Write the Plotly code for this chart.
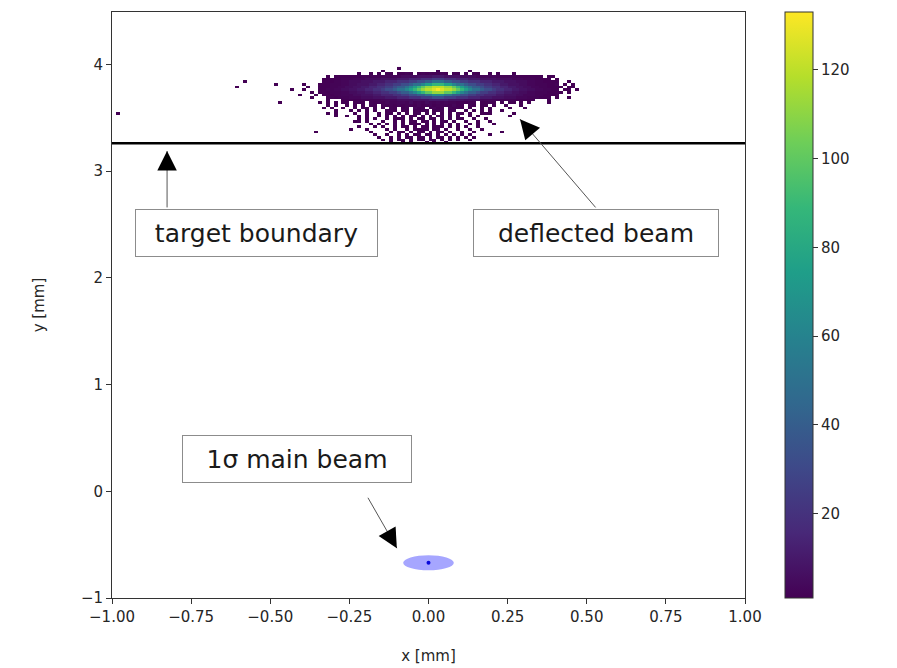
import numpy as np
import plotly.graph_objects as go

# ---------------- data ----------------
x_tick_vals = [-1.0, -0.75, -0.5, -0.25, 0.0, 0.25, 0.5, 0.75, 1.0]
y_tick_vals = [-1, 0, 1, 2, 3, 4]
cbar_tick_vals = [20, 40, 60, 80, 100, 120]

# 2D histogram of the deflected beam (counts per bin)
hist_x_min, hist_x_bin, hist_n_cols = -1.0, 0.0125, 160
hist_y_min, hist_y_bin, hist_n_rows = 3.25, 0.025, 29
block_first_col = 48          # first column of the typed block (x = -0.40)
count_codes = "123456789ABCDEFGHIJK"
count_values = [1, 2, 3, 5, 7, 10, 14, 19, 25, 32, 40, 50, 62, 75, 88, 100, 112, 120, 126, 133]

# rows from top (y = 3.975) to bottom (y = 3.25); '.' = empty bin
hist_rows = [
    "",
    "....................1.............1.......1",
    ".........." "....1..1.1" ".11.1121.1" "2121121.11" ".1.11..1.1" "...1......",
    "......1." "111111" "1222223333" "3444455556" "6" "6555544443" "3333222221" "111111" "..1......",
    ".....1" "11112223" "3344445555" "6667778889" "9" "9888777666" "5555444433" "32221111" ".1.....",
    "....." "111223344" "4555666777" "88899AABBC" "C" "CBBAA99888" "7776665554" "443322111" "1..1..",
    "1..." "1112223344" "5556677889" "9AABCCDEEF" "F" "FEEDCCBAA9" "9887766555" "4433222111" ".1.1.",
    ".1.." "1112233445" "566778899A" "BBCDEFGHHI" "I" "IHHGFEDCBB" "A998877665" "5443322111" "1..1.",
    "1..." "1122334455" "6677889AAB" "CCDEFGHIIJ" "K" "JIIHGFEDCC" "BAA9887766" "5544332211" ".11.1",
    "..1." "1112223344" "5566778899" "ABBCDEFGGH" "H" "HGGFEDCBBA" "9988776655" "4433222111" "1.1..",
    "...1." "111223334" "4555667778" "899AABBCCD" "D" "DCCBBAA998" "8777665554" "433322111" "1.....",
    "..1..." "11122233" "3444555666" "777888999A" "A" "A999888777" "6665554443" "33222111" ".1..1..",
    "......1..." "1111" "1222223333" "4444555566" "6" "6655554444" "3333222221" "1111" "...1.......",
    "....1.1.1." "11.121.212" "1322332423" "2432323221" "2122.1121." "1.1..1.1.." "..1.......",
    "......1.1." ".1.1.1.21." "2121312213" "1231222131" "1.21.11.1." ".1...1...." "..........",
    ".....1.1.." "1..1.21.1." "1.21.12.31" "2.1312.211" "1.1..1.1.." "..1......." "..........",
    "........1." "..1.1.1.1." ".121.21.11" "21.122.12." ".1.1.1.1.." "1........." "..........",
    "......1.1." "...1..1..1" ".11.2.1.12" ".1.2.1.1.1" "1.1..11..." "...1......" "..........",
    "........1." ".1..1.1..1" ".1.1.2.11." "2.1.12.1.1" "..1.1....." "..1......." "..........",
    ".........." "....1.1.1." ".1.112.1.2" "1.21.1.2.1" "1..1..1..." ".........." "..........",
    ".........." "...1..1..." "1..1.1.21." "12.1.21.1." ".1..1..1.." ".........." "..........",
    ".........." ".......1.1" ".1.2.1.112" ".1.1.2.1.1" "..1.1...1." ".........." "..........",
    ".........." "....1...1." "1..1.21.1." "21.121.2.1" ".1..1....." ".........." "..........",
    ".........." "..1...1..." ".1.1..1.21" "12.12.1..1" "..1..1...." ".........." "..........",
    ".........." ".......1.." "..1.21.1.1" "2.1.21.1.." "1..1......" ".........." "..........",
    ".........." "........1." ".1..1.2.12" ".12.1.2.1." "1.1....1.." ".........." "..........",
    ".........." ".........1" "..1.2.12.1" "2.1.21.2.1" ".1.1......" ".........." "..........",
    ".........." ".........." "1.1.21.1.2" "1.21.1.2.1" "..1......." ".........." "..........",
    ".........." ".........." "..1..1.1.." ".1.1..1..." ".........." ".........." "..........",
]

# isolated stray hits
stray_x = [-0.978, -0.611, -0.583, -0.479, -0.472, -0.428, -0.412, -0.305, -0.216,
           -0.359, -0.09, 0.378, 0.406, 0.438, 0.264, 0.311, 0.226, 0.188]
stray_y = [3.54, 3.785, 3.83, 3.81, 3.65, 3.77, 3.72, 3.68, 3.45,
           3.355, 3.96, 3.89, 3.81, 3.79, 3.63, 3.59, 3.36, 3.53]
stray_n = [1, 1, 1, 1, 1, 1, 1, 1, 2, 1, 1, 1, 1, 1, 1, 1, 1, 1]

target_boundary_y = 3.26

main_beam_x, main_beam_y = 0.0, -0.67
main_beam_sigma_x, main_beam_sigma_y = 0.08, 0.07

label_texts = ["target boundary", "deflected beam", "1σ main beam"]
label_x = [-0.543, 0.529, -0.4155]
label_y = [2.421, 2.421, 0.299]
label_box_w = [243, 246, 230]
arrow_tail_x = [-0.826, 0.532, -0.194]
arrow_tail_y = [2.645, 2.645, -0.047]
arrow_tip_x = [-0.826, 0.289, -0.100]
arrow_tip_y = [3.187, 3.486, -0.533]

# ---------------- build histogram grid ----------------
code_map = dict(zip(count_codes, count_values))
code_map["."] = 0
Z = np.zeros((hist_n_rows, hist_n_cols))
for k, row in enumerate(hist_rows):
    i = hist_n_rows - 1 - k
    row = row.ljust(70, ".")[:70]
    for j, ch in enumerate(row):
        Z[i, block_first_col + j] += code_map[ch]
for sx, sy, sn in zip(stray_x, stray_y, stray_n):
    j = int((sx - hist_x_min) / hist_x_bin)
    i = int((sy - hist_y_min) / hist_y_bin)
    Z[i, j] += sn
z = np.where(Z > 0, Z, np.nan)
x_centers = hist_x_min + hist_x_bin * (np.arange(hist_n_cols) + 0.5)
y_centers = hist_y_min + hist_y_bin * (np.arange(hist_n_rows) + 0.5)

# ---------------- figure ----------------
AX = "#333333"
TXT = "#262626"
fig = go.Figure()
fig.add_trace(go.Heatmap(
    x=x_centers, y=y_centers, z=z, colorscale="Viridis", zmin=1, zmax=133,
    zsmooth=False, hoverongaps=False,
    colorbar=dict(x=1.063, xanchor="left", xpad=0, ypad=0, y=0.5, yanchor="middle",
                  len=1, lenmode="fraction", thickness=28, thicknessmode="pixels",
                  outlinewidth=1, outlinecolor=AX, ticks="outside", ticklen=5,
                  tickcolor=AX, tickvals=cbar_tick_vals,
                  tickfont=dict(family="DejaVu Sans", size=15, color=TXT)),
))

fig.add_shape(type="circle", xref="x", yref="y",
              x0=main_beam_x - main_beam_sigma_x, x1=main_beam_x + main_beam_sigma_x,
              y0=main_beam_y - main_beam_sigma_y, y1=main_beam_y + main_beam_sigma_y,
              fillcolor="rgba(0,0,255,0.35)", line=dict(width=0), layer="above")
fig.add_trace(go.Scatter(x=[main_beam_x], y=[main_beam_y], mode="markers",
                         marker=dict(size=4, color="#1010c8"), hoverinfo="skip"))

fig.add_shape(type="line", xref="paper", yref="y", x0=0, x1=1,
              y0=target_boundary_y, y1=target_boundary_y,
              line=dict(color="black", width=2.5), layer="above")

px_per_x = 633 / 2.0
px_per_y = 586 / 5.49
for t, lx, ly, bw, tx, ty, hx, hy in zip(label_texts, label_x, label_y, label_box_w,
                                         arrow_tail_x, arrow_tail_y, arrow_tip_x, arrow_tip_y):
    fig.add_annotation(x=lx, y=ly, xref="x", yref="y", text=t, showarrow=False,
                       font=dict(family="DejaVu Sans", size=25, color="#1a1a1a"),
                       bgcolor="white", bordercolor="#8c8c8c", borderwidth=1,
                       borderpad=7, width=bw - 16, height=32, align="center")
    # thin grey shaft
    fig.add_annotation(x=hx, y=hy, ax=tx, ay=ty, xref="x", yref="y", axref="x", ayref="y",
                       text="", showarrow=True, arrowhead=0, arrowwidth=1,
                       arrowcolor="#555555", standoff=0, startstandoff=0)
    # black head
    dxp = (hx - tx) * px_per_x
    dyp = -(hy - ty) * px_per_y
    L = (dxp ** 2 + dyp ** 2) ** 0.5
    fig.add_annotation(x=hx, y=hy, xref="x", yref="y", ax=-dxp / L * 18, ay=-dyp / L * 18,
                       text="", showarrow=True, arrowhead=2, arrowwidth=1.5, arrowsize=2.6,
                       arrowcolor="black", standoff=0, startstandoff=0)

axis_common = dict(ticks="outside", ticklen=5, tickcolor=AX, tickwidth=1,
                   showline=True, linecolor=AX, linewidth=1, mirror=True,
                   showgrid=False, zeroline=False, automargin=False,
                   tickfont=dict(family="DejaVu Sans", size=15, color=TXT))
fig.update_xaxes(range=[-1, 1], tickvals=x_tick_vals, tickformat=".2f",
                 title=dict(text="x [mm]", standoff=25,
                            font=dict(family="DejaVu Sans", size=15, color=TXT)),
                 **axis_common)
fig.update_yaxes(range=[-1, 4.49], tickvals=y_tick_vals,
                 title=dict(text="y [mm]", standoff=32,
                            font=dict(family="DejaVu Sans", size=15, color=TXT)),
                 **axis_common)
fig.update_layout(width=897, height=668, margin=dict(l=112, r=152, t=12, b=70),
                  paper_bgcolor="white", plot_bgcolor="white", showlegend=False,
                  font=dict(family="DejaVu Sans", size=15, color=TXT))
fig.write_html("out.html")
